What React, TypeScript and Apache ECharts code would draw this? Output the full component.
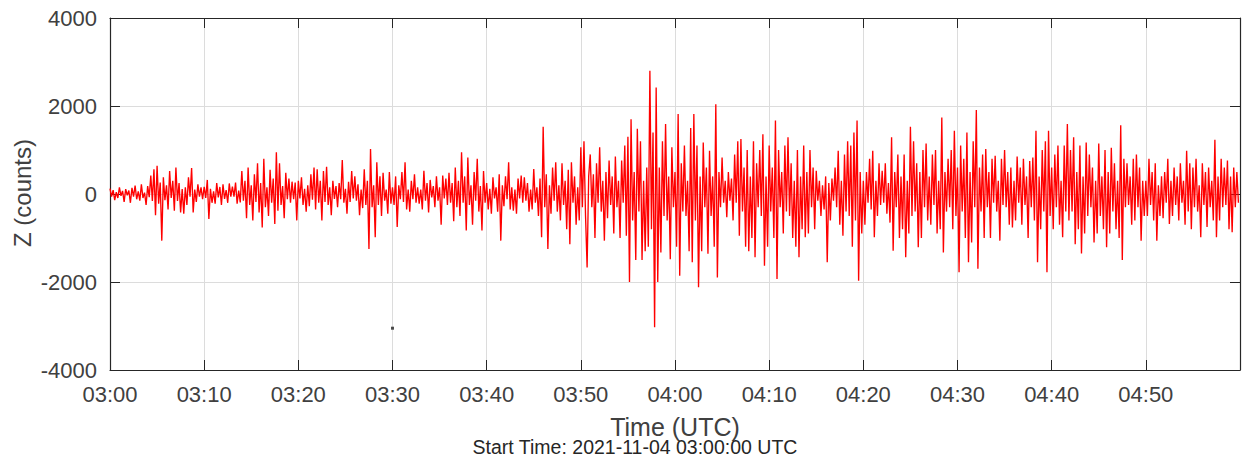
import React, { useEffect, useRef } from "react";
import * as echarts from "echarts";

// Z (counts), one sample every 10 s, one array per 10-minute span
const z0300 = [
  120, -60, 90, -140, 40, -90, 150, -40, 70, -180, 110, -30,
  80, -200, 140, -60, 190, -120, 60, -150, 220, -90, 30, -250,
  180, -70, 420, -160, 560, -480, 640, -220, 260, -1060, 380, -140,
  200, -350, 520, -90, 300, -380, 600, -160, 250, -420, 110, -450,
  150, -250, 380, -60, 590, -420, 100, -180, 220, -60, 150, -120,
];
const z0310 = [
  160, -90, 320, -570, 120, -200, 60, -220, 250, -80, 160, -250,
  220, -110, 90, -200, 240, -60, 170, -60, 260, -220, 80, -190,
  520, -150, 300, -550, 600, -250, 200, -600, 450, -180, 700, -420,
  250, -760, 800, -300, 150, -500, 550, -200, 350, -680, 950, -380,
  700, -250, 180, -550, 480, -120, 350, -200, 280, -120, 260, -600,
];
const z0320 = [
  300, -100, 380, -250, 120, -400, 200, -280, 450, -130, 600, -350,
  560, -200, 300, -600, 520, -180, 620, -250, 150, -480, 300, -110,
  180, -300, 250, -120, 770, -200, 120, -450, 280, -180, 520, -100,
  400, -150, 220, -480, 100, -320, 560, -250, 300, -1250, 1020, -300,
  200, -985, 720, -250, 400, -500, 480, -150, 100, -450, 500, -220,
];
const z0330 = [
  150, -250, 400, -750, 200, -120, 500, -180, 720, -350, 100, -400,
  300, -120, 450, -200, 150, -220, 100, -350, 530, -150, 250, -420,
  320, -80, 180, -300, 400, -150, 150, -700, 420, -100, 350, -250,
  480, -200, 250, -620, 600, -300, 300, -500, 950, -200, 400, -830,
  830, -250, 200, -700, 500, -150, 800, -400, 180, -830, 520, -200,
];
const z0340 = [
  250, -350, 120, -450, 380, -100, 150, -400, 450, -1060, 200, -280,
  400, -120, 720, -350, 150, -380, 100, -450, 350, -100, 420, -200,
  380, -150, 250, -400, 100, -350, 570, -200, 150, -500, 350, -985,
  1530, -300, 450, -1250, 200, -450, 600, -150, 720, -400, 200, -600,
  700, -250, 300, -800, 550, -1140, 720, -200, 400, -700, 150, -600,
];
const z0350 = [
  1060, -300, 1200, -500, -1670, 400, 900, -300, 450, -1000, 700, -200,
  1060, -400, 300, -1060, 500, -550, 760, -250, 400, -900, 850, -300,
  300, -1000, 760, -200, 1100, -950, 1300, -2000, 1700, -600, 500, -1500,
  1480, -400, 1200, -1500, 300, -1300, 600, -1200, 2800, -800, 1400, -3030,
  2420, -2000, 600, -1330, 1200, -500, 1590, -600, 400, -1480, 1060, -300,
];
const z0400 = [
  500, -1200, 1820, -1860, 700, -400, 1100, -500, 300, -1300, 1500, -1550,
  1820, -600, 1100, -2120, 400, -1300, 1170, -300, 600, -1360, 980, -500,
  400, -1200, 2040, -1900, 500, -300, 830, -200, 300, -530, 500, -150,
  350, -600, 900, -200, 1200, -950, 1250, -400, 600, -1200, 1000, -1300,
  400, -1000, 1200, -1440, 700, -300, 1000, -500, 1360, -1630, 400, -1200,
];
const z0410 = [
  1100, -400, 600, -1000, 1670, -1930, 1000, -300, 500, -900, 1100, -400,
  1290, -500, 700, -1000, 300, -1200, 1000, -1440, 400, -800, 1100, -985,
  500, -900, 1000, -300, 600, -800, 530, -150, 300, -500, 200, -350,
  400, -1550, 250, -600, 350, -150, 600, -300, 980, -700, 300, -950,
  900, -400, 1200, -500, 1100, -1200, 1400, -600, 1670, -1970, 500, -900,
];
const z0420 = [
  300, -700, 500, -200, 800, -350, 980, -985, 300, -500, 700, -250,
  530, -200, 700, -450, 250, -650, 1290, -1290, 500, -300, 900, -1000,
  400, -800, 900, -1440, 300, -900, 1530, -500, 1200, -400, 700, -1210,
  500, -1000, 1000, -300, 1150, -600, 400, -700, 900, -250, 1000, -900,
  300, -800, 1740, -1330, 500, -400, 800, -300, 1000, -800, 1440, -500,
];
const z0430 = [
  600, -1780, 1100, -400, 800, -1000, 1400, -1550, 500, -1100, 1200, -300,
  1910, -1700, 600, -400, 900, -1000, 1020, -300, 500, -1000, 800, -200,
  870, -400, 300, -1060, 800, -250, 1000, -300, 500, -700, 600, -760,
  300, -600, 850, -200, 600, -700, 800, -250, 400, -1000, 750, -300,
  830, -600, 1440, -1550, 400, -800, 1000, -400, 1200, -1780, 1440, -500,
];
const z0440 = [
  600, -800, 900, -300, 1100, -700, 300, -985, 1100, -400, 1590, -600,
  1000, -400, 1290, -1140, 500, -800, 1100, -1350, 400, -900, 1170, -500,
  900, -300, 600, -1100, 300, -900, 1150, -500, 400, -800, 1000, -1210,
  500, -900, 1050, -400, 700, -800, 300, -1000, 1560, -1500, 800, -300,
  700, -250, 400, -700, 800, -600, 900, -300, 600, -1060, 300, -500,
];
const z0450 = [
  300, -500, 800, -250, 500, -600, 700, -1060, 200, -500, 400, -550,
  500, -200, 800, -680, 300, -500, 600, -250, 400, -600, 700, -200,
  300, -700, 980, -400, 700, -800, 600, -300, 800, -400, 200, -985,
  700, -250, 500, -750, 600, -300, 300, -600, 1230, -985, 400, -600,
  800, -300, 600, -250, 760, -800, 400, -870, 600, -300, 500, -200,
];

const segments = [z0300, z0310, z0320, z0330, z0340, z0350, z0400, z0410, z0420, z0430, z0440, z0450];
const samplesPerMinute = 6;
const startHour = 3;
const yTicks = [-4000, -2000, 0, 2000, 4000];
const markerPoint = [[30, -3050]];
const startTimeText = "Start Time: 2021-11-04 03:00:00 UTC";

const FONT = "'Liberation Sans', Arial, Helvetica, sans-serif";
const AX = "#262626";
const TXT = "#404040";

export default function App() {
  const ref = useRef<HTMLDivElement>(null);
  useEffect(() => {
    if (!ref.current) return;
    const chart = echarts.init(ref.current, undefined, { renderer: "svg" });
    const values = ([] as number[]).concat(...segments);
    const data = values.map((v, i) => [i / samplesPerMinute, v]);
    const fmt = (m: number) => {
      if (m >= 120) return "";
      const h = startHour + Math.floor(m / 60);
      const mm = Math.round(m % 60);
      return `${String(h).padStart(2, "0")}:${String(mm).padStart(2, "0")}`;
    };
    const tickStyle = { show: true, inside: true, length: 10, lineStyle: { color: AX, width: 1 } };
    chart.setOption({
      animation: false,
      backgroundColor: "#ffffff",
      grid: { left: 110, right: 4, top: 18, bottom: 89, containLabel: false },
      xAxis: [
        {
          type: "value",
          min: 0,
          max: 120,
          interval: 10,
          axisLine: { show: true, onZero: false, lineStyle: { color: AX, width: 1.2 } },
          axisTick: tickStyle,
          axisLabel: { show: true, formatter: fmt, color: TXT, fontSize: 22, fontFamily: FONT, margin: 13, showMaxLabel: false },
          splitLine: { show: true, lineStyle: { color: "#dcdcdc", width: 1 } },
        },
        {
          type: "value",
          position: "top",
          min: 0,
          max: 120,
          interval: 10,
          axisLine: { show: true, onZero: false, lineStyle: { color: AX, width: 1.2 } },
          axisTick: tickStyle,
          axisLabel: { show: false },
          splitLine: { show: false },
        },
      ],
      yAxis: [
        {
          type: "value",
          min: yTicks[0],
          max: yTicks[yTicks.length - 1],
          interval: 2000,
          axisLine: { show: true, onZero: false, lineStyle: { color: AX, width: 1.2 } },
          axisTick: tickStyle,
          axisLabel: { color: TXT, fontSize: 22, fontFamily: FONT, margin: 13, formatter: (v: number) => String(v) },
          splitLine: { show: true, lineStyle: { color: "#dcdcdc", width: 1 } },
        },
        {
          type: "value",
          position: "right",
          min: yTicks[0],
          max: yTicks[yTicks.length - 1],
          interval: 2000,
          axisLine: { show: true, onZero: false, lineStyle: { color: AX, width: 1.2 } },
          axisTick: tickStyle,
          axisLabel: { show: false },
          splitLine: { show: false },
        },
      ],
      series: [
        {
          type: "line",
          data,
          showSymbol: false,
          symbol: "none",
          lineStyle: { color: "#ff0000", width: 1.35 },
          z: 3,
        },
        {
          type: "scatter",
          data: markerPoint,
          symbol: "rect",
          symbolSize: 3,
          itemStyle: { color: "#222222" },
          z: 4,
        },
      ],
      graphic: [
        {
          type: "text",
          x: 22,
          y: 193,
          rotation: Math.PI / 2,
          style: { text: "Z (counts)", fill: TXT, font: `24px ${FONT}`, textAlign: "center", textVerticalAlign: "middle" },
        },
        {
          type: "text",
          x: 675,
          y: 427,
          style: { text: "Time (UTC)", fill: TXT, font: `25px ${FONT}`, textAlign: "center", textVerticalAlign: "middle" },
        },
        {
          type: "text",
          x: 635,
          y: 447,
          style: { text: startTimeText, fill: "#262626", font: `19.5px ${FONT}`, textAlign: "center", textVerticalAlign: "middle" },
        },
      ],
    });
    return () => chart.dispose();
  }, []);
  return <div ref={ref} style={{ position: "fixed", left: 0, top: 0, width: 1244, height: 459 }} />;
}
